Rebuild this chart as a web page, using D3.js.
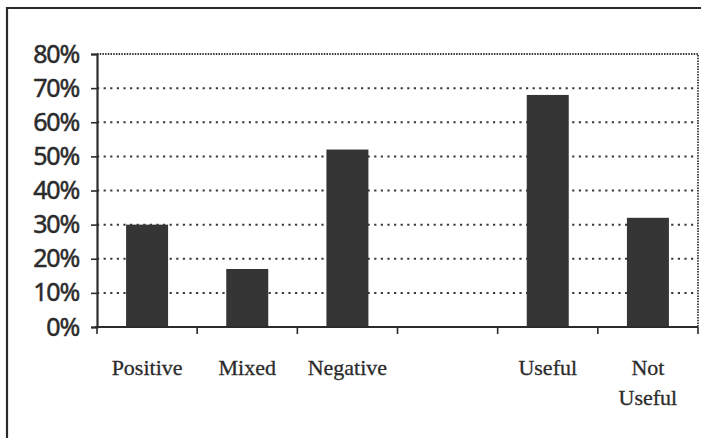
<!DOCTYPE html>
<html>
<head>
<meta charset="utf-8">
<script src="https://cdn.jsdelivr.net/npm/d3@7"></script>
<style>
  html, body { margin: 0; padding: 0; background: #fff; }
  svg { display: block; }
</style>
</head>
<body>
<svg id="chart" width="711" height="438"></svg>
<script>
// Response shares by category; the blank slot separates the two groups
const categories = ["Positive", "Mixed", "Negative", "", "Useful", "Not Useful"];
const shares = [0.30, 0.17, 0.52, null, 0.68, 0.32];
const yTicks = [0, 0.1, 0.2, 0.3, 0.4, 0.5, 0.6, 0.7, 0.8];

const svg = d3.select("#chart");
const ink = "#2b2b2b";
const plot = { left: 97, right: 698, top: 54, bottom: 327 };

// Outer frame: top and left edges only
svg.append("path")
  .attr("d", "M7,438 L7,8 L701,8")
  .attr("fill", "none").attr("stroke", "#2a2a2a").attr("stroke-width", 2.2);

const slotKeys = categories.map((c, i) => i);
const x = d3.scaleBand().domain(slotKeys).range([plot.left, plot.right]).padding(0);
const y = d3.scaleLinear().domain([0, 0.8]).range([plot.bottom, plot.top]);

// Dotted gridlines
svg.append("g").selectAll("line")
  .data(yTicks.filter(t => t > 0 && t < 0.8))
  .join("line")
  .attr("x1", plot.left).attr("x2", plot.right)
  .attr("y1", d => y(d)).attr("y2", d => y(d))
  .attr("stroke", "#3a3a3a").attr("stroke-width", 2)
  .attr("stroke-dasharray", "2.2,4.4");

// Plot area top and right edges (fine dots)
svg.append("path")
  .attr("d", `M${plot.left},${y(0.8)} L${plot.right},${y(0.8)} L${plot.right},${plot.bottom}`)
  .attr("fill", "none").attr("stroke", "#3a3a3a").attr("stroke-width", 1.8)
  .attr("stroke-dasharray", "1.5,1.2");

// Bars
const barW = 42;
svg.append("g").selectAll("rect")
  .data(shares.map((v, i) => ({ i, v })).filter(d => d.v != null))
  .join("rect")
  .attr("x", d => x(d.i) + x.bandwidth() / 2 - barW / 2)
  .attr("width", barW)
  .attr("y", d => y(d.v))
  .attr("height", d => y(0) - y(d.v))
  .attr("fill", "#353535");

// Y axis
const yAxis = svg.append("g")
  .attr("transform", `translate(${plot.left},0)`)
  .call(d3.axisLeft(y).tickValues(yTicks).tickFormat(d3.format(".0%")).tickSize(6).tickPadding(12));
yAxis.select(".domain").attr("stroke", ink).attr("stroke-width", 2.2);
yAxis.selectAll(".tick line").attr("stroke", ink).attr("stroke-width", 1.6);
yAxis.selectAll(".tick text")
  .attr("fill", ink)
  .attr("stroke", ink).attr("stroke-width", 0.5)
  .style("font-family", "'Noto Sans', sans-serif")
  .style("font-size", "25px")
  .style("letter-spacing", "-1.2px");

// X axis: ticks at slot boundaries, labels below each slot
const xAxisG = svg.append("g").attr("transform", `translate(0,${plot.bottom})`);
xAxisG.append("line")
  .attr("x1", plot.left - 2).attr("x2", plot.right)
  .attr("stroke", ink).attr("stroke-width", 2);
const bounds = slotKeys.map(k => x(k)).concat([plot.right]);
xAxisG.selectAll("line.tick")
  .data(bounds)
  .join("line").attr("class", "tick")
  .attr("x1", d => d).attr("x2", d => d)
  .attr("y1", 0).attr("y2", 7)
  .attr("stroke", ink).attr("stroke-width", 1.6);

const labels = svg.append("g")
  .style("font-family", "'Liberation Serif', 'Times New Roman', serif")
  .style("font-size", "22px")
  .attr("fill", ink)
  .attr("stroke", ink).attr("stroke-width", 0.3)
  .attr("text-anchor", "middle");
labels.selectAll("text")
  .data(categories.map((c, i) => ({ c, i })).filter(d => d.c))
  .join("text")
  .attr("x", d => x(d.i) + x.bandwidth() / 2)
  .attr("y", 375)
  .each(function (d) {
    // wrap words that don't fit the slot width
    const words = d.c.split(" ");
    const t = d3.select(this);
    let lines = [words[0]];
    const probe = t.append("tspan");
    for (let w of words.slice(1)) {
      probe.text(lines[lines.length - 1] + " " + w);
      if (probe.node().getComputedTextLength() > x.bandwidth() * 0.85) lines.push(w);
      else lines[lines.length - 1] += " " + w;
    }
    probe.remove();
    lines.forEach((ln, k) => {
      t.append("tspan")
        .attr("x", x(d.i) + x.bandwidth() / 2)
        .attr("dy", k === 0 ? 0 : 30)
        .text(ln);
    });
  });
</script>
</body>
</html>
